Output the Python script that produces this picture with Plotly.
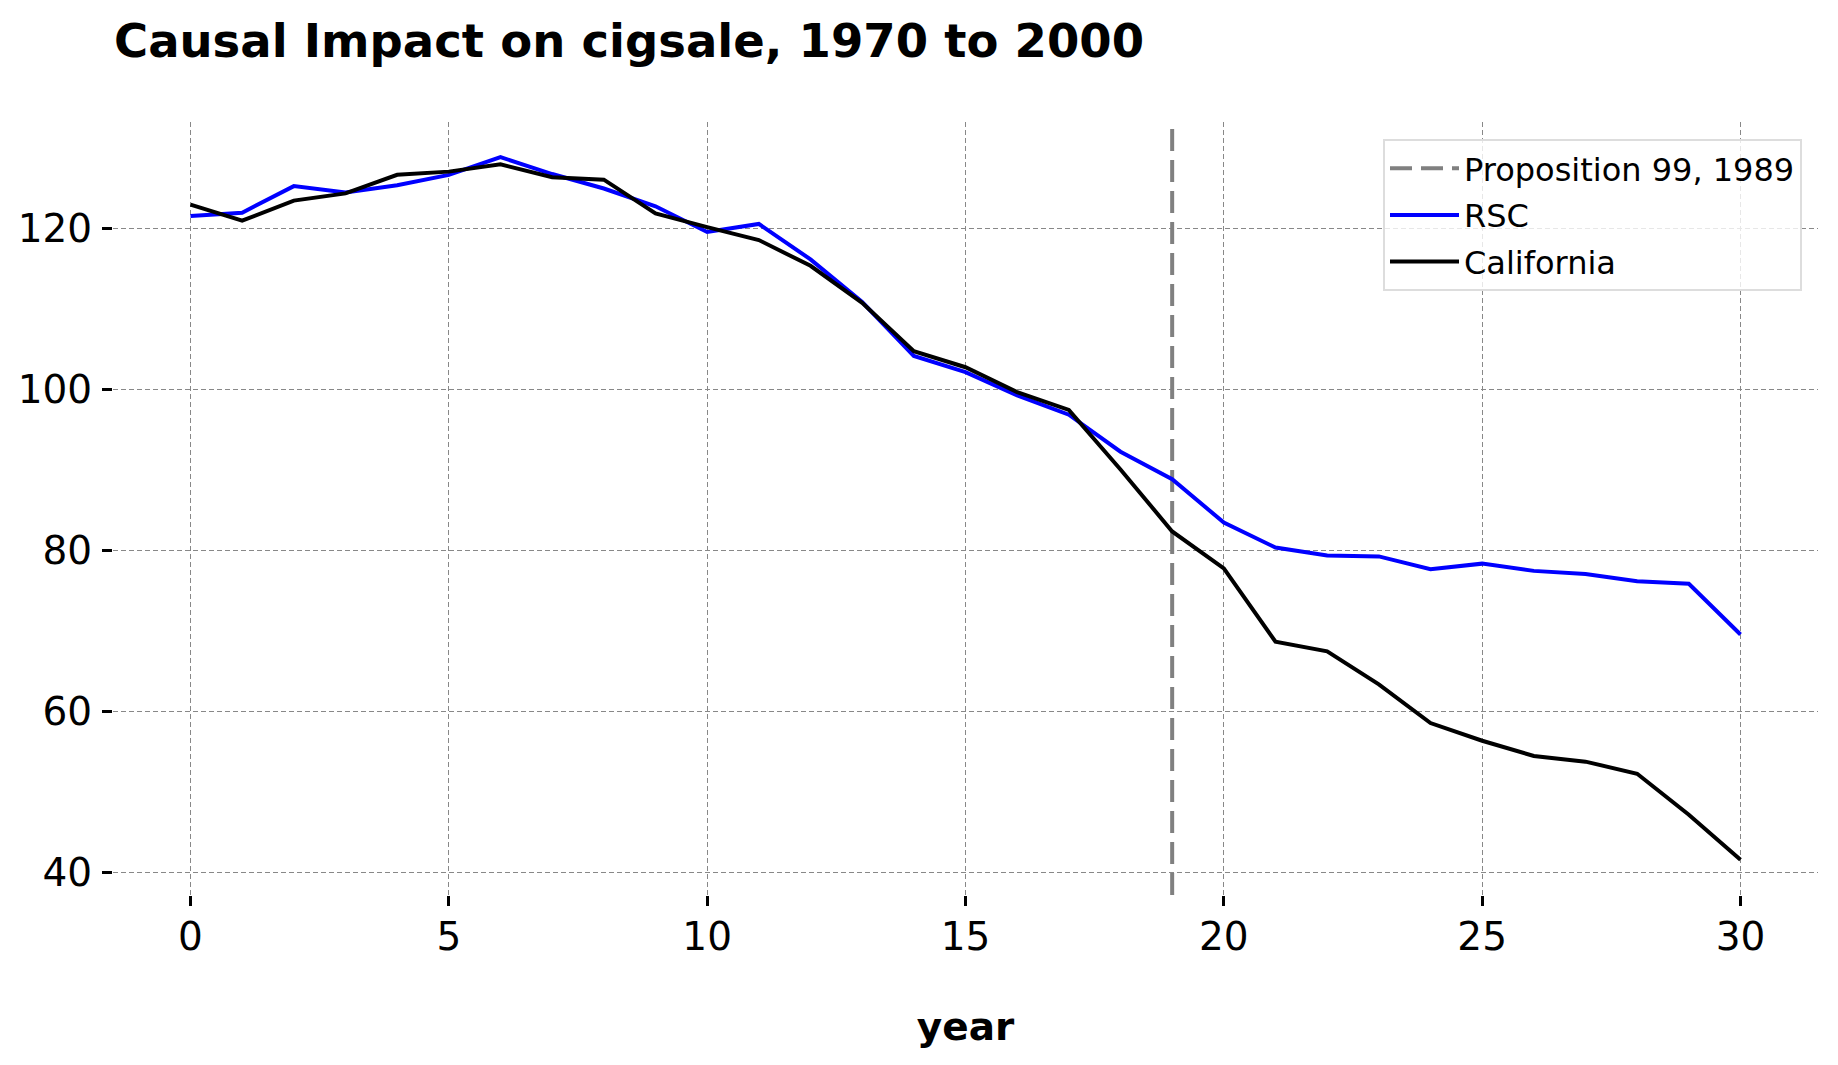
import plotly.graph_objects as go

years = list(range(31))
california = [123.0, 121.0, 123.5, 124.4, 126.7, 127.1, 128.0, 126.4, 126.1, 121.9,
              120.2, 118.6, 115.4, 110.8, 104.8, 102.8, 99.7, 97.5, 90.1, 82.4,
              77.8, 68.7, 67.5, 63.4, 58.6, 56.4, 54.5, 53.8, 52.3, 47.2, 41.6]
rsc = [121.6, 122.0, 125.3, 124.5, 125.4, 126.7, 128.9, 126.8, 125.0, 122.8,
       119.6, 120.6, 116.2, 110.9, 104.2, 102.2, 99.3, 96.9, 92.3, 88.9,
       83.5, 80.4, 79.4, 79.3, 77.7, 78.4, 77.5, 77.1, 76.2, 75.9, 69.6]
intervention_year = 19
x_ticks = [0, 5, 10, 15, 20, 25, 30]
y_ticks = [40, 60, 80, 100, 120]

allv = california + rsc
lo, hi = min(allv), max(allv)
pad = 0.05 * (hi - lo)
y_range = [lo - pad, hi + pad]
x_range = [years[0] - 0.05 * (years[-1] - years[0]), years[-1] + 0.05 * (years[-1] - years[0])]

FONT = "DejaVu Sans"
W, H = 1830, 1057          # page adds an 8px body margin
L, R, T, B = 105, 20, 114, 170
PW, PH = W - L - R, H - T - B

fig = go.Figure()
fig.add_trace(go.Scatter(
    x=[intervention_year, intervention_year], y=y_range, mode="lines",
    name="Proposition 99, 1989", legendgroup="a",
    line=dict(color="#808080", width=4, dash="22px,9px"),
))
fig.add_trace(go.Scatter(
    x=years, y=rsc, mode="lines", name="RSC", legendgroup="b",
    line=dict(color="#0000ff", width=4),
))
fig.add_trace(go.Scatter(
    x=years, y=california, mode="lines", name="California", legendgroup="c",
    line=dict(color="#000000", width=4),
))

axis_common = dict(
    showline=False, zeroline=False, automargin=False,
    showgrid=True, gridcolor="#888888", gridwidth=1.2, griddash="5px,3px",
    ticks="outside", ticklen=10, tickwidth=2.5, tickcolor="black",
    tickfont=dict(family=FONT, size=39, color="black"),
)

fig.update_layout(
    width=W, height=H,
    margin=dict(l=L, r=R, t=T, b=B),
    paper_bgcolor="white", plot_bgcolor="white",
    font=dict(family=FONT, color="black"),
    title=dict(
        text="<b>Causal Impact on cigsale, 1970 to 2000</b>",
        font=dict(family=FONT, size=46.5, color="black"),
        x=106 / W, xanchor="left", xref="container",
        y=1 - 33 / H, yanchor="middle", yref="container",
    ),
    showlegend=True,
    legend=dict(
        x=(1802 - 8 - L) / PW, xanchor="right", y=(H - B - 131) / PH, yanchor="top",
        bgcolor="rgba(255,255,255,0.8)", bordercolor="#dddddd", borderwidth=2,
        font=dict(family=FONT, size=32, color="black"),
        tracegroupgap=2, itemwidth=69,
    ),
    xaxis=dict(
        range=x_range, tickvals=x_ticks,
        title=dict(text="<b>year</b>", font=dict(family=FONT, size=39, color="black"), standoff=54),
        ticklabelstandoff=-3,
        **axis_common,
    ),
    yaxis=dict(
        range=y_range, tickvals=y_ticks,
        ticklabelstandoff=2,
        **axis_common,
    ),
)

fig.write_html("out.html")
